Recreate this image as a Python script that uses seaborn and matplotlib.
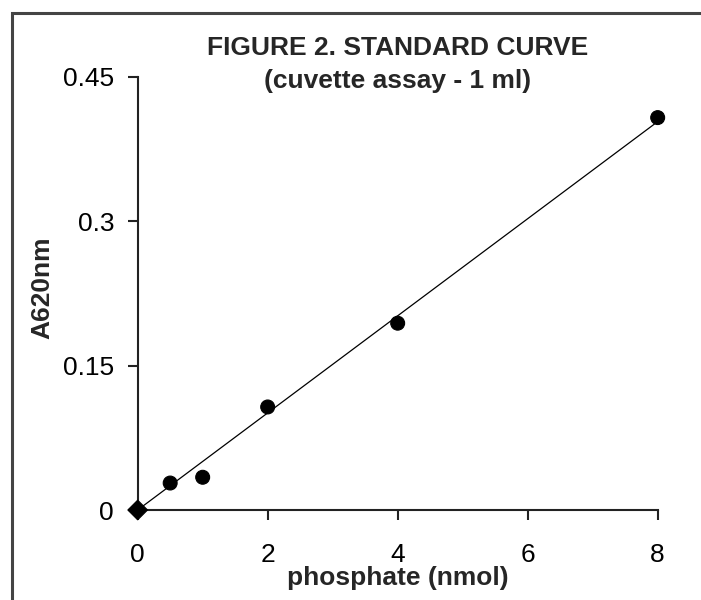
import numpy as np
import pandas as pd
import seaborn as sns
import matplotlib.pyplot as plt
from matplotlib.patches import Rectangle

# standard curve readings
phosphate = [0, 0.5, 1, 2, 4, 8]
a620 = [0.0, 0.028, 0.034, 0.107, 0.194, 0.4075]
point_kind = ["blank", "std", "std", "std", "std", "std"]
x_ticks = [0, 2, 4, 6, 8]
y_ticks = [0, 0.15, 0.3, 0.45]
y_tick_labels = ["0", "0.15", "0.3", "0.45"]

sns.set_style("ticks")
plt.rcParams['font.family'] = ['Liberation Sans', 'DejaVu Sans']

df = pd.DataFrame({"phosphate": phosphate, "A620nm": a620, "kind": point_kind})

# trend line through origin, least squares
x = np.array(phosphate)
y = np.array(a620)
slope = (x * y).sum() / (x * x).sum()
fit = pd.DataFrame({"phosphate": [0, 8], "A620nm": [0, 8 * slope]})

fig = plt.figure(figsize=(7.01, 6), dpi=100)
ax = fig.add_axes([0.1964, 0.15, 0.7418, 0.7222])

sns.lineplot(data=fit, x="phosphate", y="A620nm", color="black", linewidth=0.9, ax=ax)
sns.scatterplot(data=df, x="phosphate", y="A620nm", style="kind",
                markers={"blank": "D", "std": "o"}, color="black", s=100,
                edgecolor="black", legend=False, ax=ax, clip_on=False, zorder=3)

ax.set_xlim(0, 8)
ax.set_ylim(0, 0.45)
ax.set_xticks(x_ticks)
ax.set_xticklabels([str(t) for t in x_ticks])
ax.set_yticks(y_ticks)
ax.set_yticklabels(y_tick_labels)
ax.tick_params(axis='both', direction='out', length=7, width=1.5, color="#222222",
               labelsize=19, labelcolor="black")
ax.tick_params(axis='x', pad=17)
ax.tick_params(axis='y', pad=10)
sns.despine(ax=ax)
for side in ["left", "bottom"]:
    ax.spines[side].set_linewidth(1.5)
    ax.spines[side].set_color("#222222")

ax.set_xlabel("phosphate (nmol)", fontsize=19, fontweight="bold")
ax.xaxis.set_label_coords(0.5, -(578 - 510) / 433.3)
ax.xaxis.label.set_va("center")
ax.set_ylabel("A620nm", fontsize=19, fontweight="bold")
ax.yaxis.set_label_coords(-(137.7 - 42) / 520, (510 - 288) / 433.3)
ax.yaxis.label.set_va("center")
ax.set_title("FIGURE 2. STANDARD CURVE\n(cuvette assay - 1 ml)", fontsize=19,
             fontweight="bold", y=(510 - 88) / 433.3, pad=0, linespacing=1.45)

# outer frame, cut off at right and bottom like the source image
fig.patches.append(Rectangle((12 / 701, -0.1), 1.2, 1 - 13 / 600 + 0.1,
                             transform=fig.transFigure, fill=False,
                             edgecolor="#444444", linewidth=2.2))

fig.savefig("out.png", dpi=100)
